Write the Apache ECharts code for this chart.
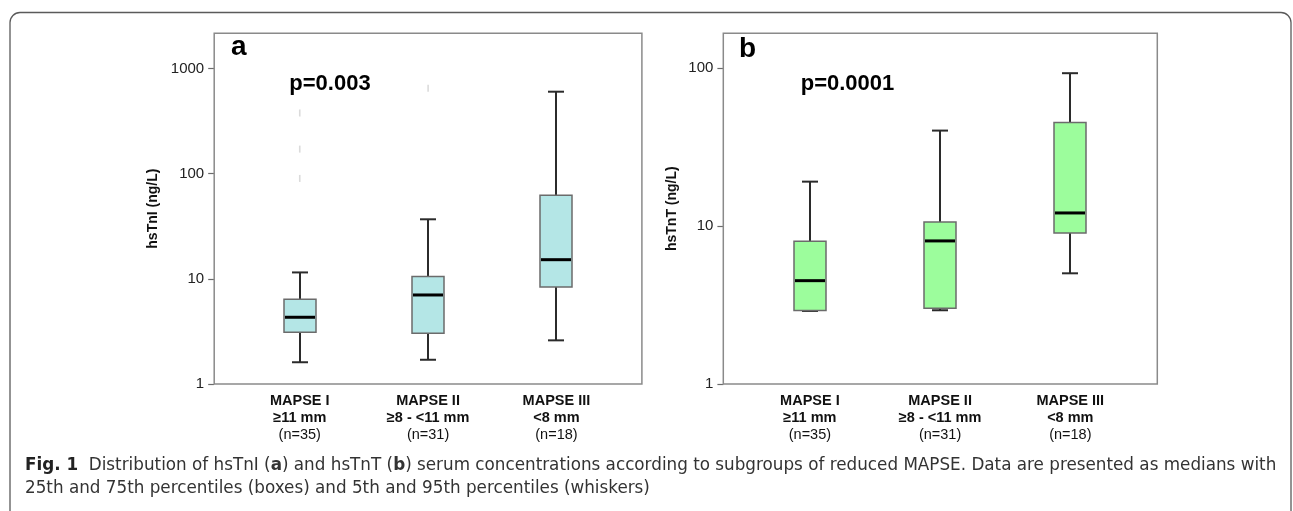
<!DOCTYPE html>
<html>
<head>
<meta charset="utf-8">
<title>hsTnI / hsTnT by MAPSE subgroup</title>
<script src="https://cdn.jsdelivr.net/npm/echarts@6/dist/echarts.min.js"></script>
<style>
  html, body { margin: 0; padding: 0; background: #fff; }
  #chart { width: 1293px; height: 511px; }
</style>
</head>
<body>
<div id="chart"></div>
<script>
// groups on the x axis
const groupNames = ['MAPSE I', 'MAPSE II', 'MAPSE III'];
const groupRanges = ['≥11 mm', '≥8 - <11 mm', '<8 mm'];
const groupN = ['(n=35)', '(n=31)', '(n=18)'];

// hsTnI (ng/L): 5th, 25th, median, 75th, 95th percentiles
const tnIP5 = [1.61, 1.70, 2.60];
const tnIP25 = [3.10, 3.03, 8.36];
const tnIMedian = [4.31, 7.02, 15.2];
const tnIP75 = [6.38, 10.5, 62.2];
const tnIP95 = [11.5, 36.8, 601];
// single values above the whiskers: [group index, value]
const tnIOutliers = [[0, 377], [0, 171], [0, 90], [1, 647]];

// hsTnT (ng/L)
const tnTP5 = [2.90, 2.93, 5.02];
const tnTP25 = [2.92, 3.02, 9.04];
const tnTMedian = [4.51, 8.05, 12.1];
const tnTP75 = [8.01, 10.6, 45.2];
const tnTP95 = [19.1, 40.2, 92.8];

const tnITicks = [1, 10, 100, 1000];
const tnTTicks = [1, 10, 100];
const pValues = ['p=0.003', 'p=0.0001'];

const FONT = "'Liberation Sans', Arial, sans-serif";
const CAPTION_FONT = "'DejaVu Sans', sans-serif";

function boxRows(p5, p25, med, p75, p95) {
  return groupNames.map(function (g, i) {
    return [i, p5[i], p25[i], med[i], p75[i], p95[i]];
  });
}

// box, median bar and whiskers with short caps
function boxItem(fill) {
  return function (params, api) {
    const i = api.value(0);
    const lo = api.coord([i, api.value(1)]);
    const q1 = api.coord([i, api.value(2)]);
    const md = api.coord([i, api.value(3)]);
    const q3 = api.coord([i, api.value(4)]);
    const hi = api.coord([i, api.value(5)]);
    const cx = Math.round(lo[0]);
    const bw = 32, cw = 16;
    const line = { stroke: '#2b2b2b', lineWidth: 2 };
    return {
      type: 'group',
      children: [
        { type: 'line', shape: { x1: cx, y1: hi[1], x2: cx, y2: lo[1] }, style: line },
        { type: 'line', shape: { x1: cx - cw / 2, y1: hi[1], x2: cx + cw / 2, y2: hi[1] }, style: line },
        { type: 'line', shape: { x1: cx - cw / 2, y1: lo[1], x2: cx + cw / 2, y2: lo[1] }, style: line },
        { type: 'rect', shape: { x: cx - bw / 2, y: q3[1], width: bw, height: q1[1] - q3[1] },
          style: { fill: fill, stroke: '#6b6b6b', lineWidth: 1.5 } },
        { type: 'line', shape: { x1: cx - bw / 2 + 1, y1: md[1], x2: cx + bw / 2 - 1, y2: md[1] },
          style: { stroke: '#000', lineWidth: 3 } }
      ]
    };
  };
}

function xAxisFor(gridIndex) {
  return {
    type: 'category',
    gridIndex: gridIndex,
    data: groupNames,
    axisLine: { show: false },
    axisTick: { alignWithLabel: true, length: 5, lineStyle: { color: '#6b6b6b', width: 1.5 } },
    axisLabel: {
      margin: 8,
      color: '#111',
      formatter: function (v, i) {
        return '{b|' + groupNames[i] + '}\n{b|' + groupRanges[i] + '}\n{n|' + groupN[i] + '}';
      },
      rich: {
        b: { fontFamily: FONT, fontWeight: 'bold', fontSize: 14.5, lineHeight: 17, color: '#111' },
        n: { fontFamily: FONT, fontSize: 14.5, lineHeight: 17, color: '#111' }
      }
    },
    splitLine: { show: false }
  };
}

function yAxisFor(gridIndex, max, ticks, name, gap) {
  return {
    type: 'log',
    logBase: 10,
    gridIndex: gridIndex,
    min: 1,
    max: max,
    offset: 21.4,
    name: name,
    nameLocation: 'middle',
    nameRotate: 90,
    nameGap: gap,
    nameTextStyle: { fontFamily: FONT, fontWeight: 'bold', fontSize: 14, color: '#111' },
    axisLine: { show: false },
    axisTick: { show: true, length: 6, customValues: ticks, lineStyle: { color: '#6b6b6b', width: 1.2 } },
    axisLabel: {
      customValues: ticks, margin: 10, fontFamily: FONT, fontSize: 15, color: '#222',
      formatter: function (v) { return String(Math.round(v)); }
    },
    splitLine: { show: false }
  };
}

const frame = { fill: 'none', stroke: '#8a8a8a', lineWidth: 1.5 };

const chart = echarts.init(document.getElementById('chart'));
chart.setOption({
  animation: false,
  backgroundColor: '#fff',
  grid: [
    { left: 235.6, top: 33.3, width: 385, height: 350.7 },
    { left: 744.8, top: 33.3, width: 390.6, height: 350.7 }
  ],
  xAxis: [xAxisFor(0), xAxisFor(1)],
  yAxis: [
    yAxisFor(0, 2158, tnITicks, 'hsTnI (ng/L)', 54),
    yAxisFor(1, 166, tnTTicks, 'hsTnT (ng/L)', 44)
  ],
  series: [
    {
      type: 'custom',
      xAxisIndex: 0, yAxisIndex: 0,
      renderItem: boxItem('#b4e6e6'),
      encode: { x: 0, y: [1, 2, 3, 4, 5] },
      data: boxRows(tnIP5, tnIP25, tnIMedian, tnIP75, tnIP95),
      z: 3
    },
    {
      type: 'scatter',
      xAxisIndex: 0, yAxisIndex: 0,
      symbol: 'rect',
      symbolSize: [1.6, 7],
      itemStyle: { color: '#d2d2d2' },
      data: tnIOutliers,
      z: 2
    },
    {
      type: 'custom',
      xAxisIndex: 1, yAxisIndex: 1,
      renderItem: boxItem('#9cfd9c'),
      encode: { x: 0, y: [1, 2, 3, 4, 5] },
      data: boxRows(tnTP5, tnTP25, tnTMedian, tnTP75, tnTP95),
      z: 3
    }
  ],
  graphic: [
    // outer figure border
    { type: 'rect', shape: { x: 10, y: 12.5, width: 1281, height: 510, r: 10 },
      style: { fill: 'none', stroke: '#5a5a5a', lineWidth: 1.3 }, silent: true },
    // plot frames
    { type: 'rect', shape: { x: 214.2, y: 33.3, width: 427.7, height: 350.7 }, style: frame, z: 1 },
    { type: 'rect', shape: { x: 723.3, y: 33.3, width: 434, height: 350.7 }, style: frame, z: 1 },
    // panel letters and p values
    { type: 'text', left: 231, top: 33, style: { text: 'a', font: 'bold 28px ' + FONT, fill: '#000' } },
    { type: 'text', left: 739, top: 35, style: { text: 'b', font: 'bold 28px ' + FONT, fill: '#000' } },
    { type: 'text', x: 330, y: 84, style: { text: pValues[0], font: 'bold 22px ' + FONT, fill: '#000', align: 'center', verticalAlign: 'middle' } },
    { type: 'text', x: 847.5, y: 84, style: { text: pValues[1], font: 'bold 22px ' + FONT, fill: '#000', align: 'center', verticalAlign: 'middle' } },
    // caption
    { type: 'text', x: 25, y: 466, style: {
        text: '{f|Fig. 1}  Distribution of hsTnI ({bb|a}) and hsTnT ({bb|b}) serum concentrations according to subgroups of reduced MAPSE. Data are presented as medians with',
        font: '16.8px ' + CAPTION_FONT, fill: '#333', verticalAlign: 'middle',
        rich: {
          f: { font: 'bold 16.8px ' + CAPTION_FONT, fill: '#222' },
          bb: { font: 'bold 16.8px ' + CAPTION_FONT, fill: '#333' }
        }
      } },
    { type: 'text', x: 25, y: 489, style: {
        text: '25th and 75th percentiles (boxes) and 5th and 95th percentiles (whiskers)',
        font: '16.8px ' + CAPTION_FONT, fill: '#333', verticalAlign: 'middle'
      } }
  ]
});
</script>
</body>
</html>
